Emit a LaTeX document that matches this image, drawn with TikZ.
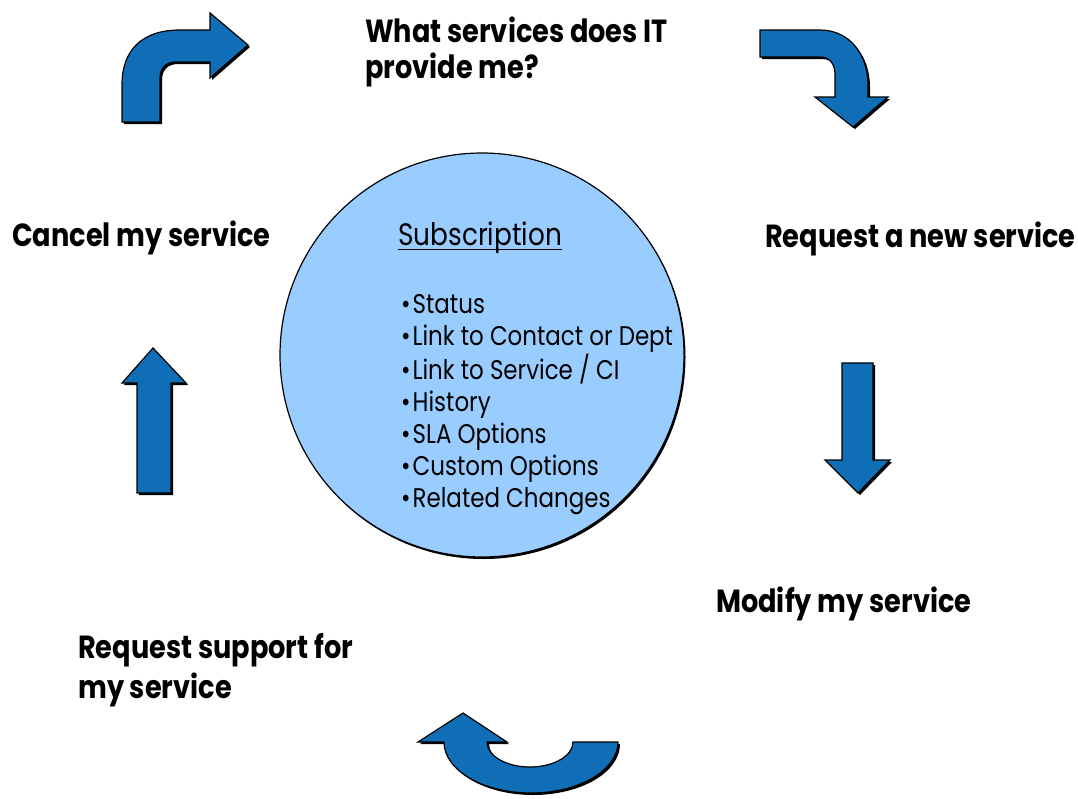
\documentclass[tikz,border=0pt]{standalone}
\usepackage{fontspec}
\newfontfamily\geo{Poppins}[FakeStretch=0.85]
\definecolor{flowblue}{RGB}{16,110,182}
\definecolor{discblue}{RGB}{153,204,255}

% filled block arrow with a dark drop shadow
\newcommand{\flowarrow}[1]{\fill[drop] #1; \filldraw[flow] #1;}

\begin{document}
\begin{tikzpicture}[x=1pt, y=1pt,
  action/.style={anchor=base west, inner sep=0pt, align=left,
    font=\geo\bfseries\fontsize{32}{38}\selectfont},
  entry/.style={anchor=base west, inner sep=0pt, align=left,
    font=\geo\fontsize{27}{32}\selectfont},
  flow/.style={fill=flowblue, draw=black, line width=1.2pt, line join=miter},
  drop/.style={fill=black, shift={(2,-2)}}
]
\useasboundingbox[fill=white] (0,0) rectangle (1078,-798);

% Central disc
\fill[black] (483.5,-357) circle[radius=202pt];
\node[circle, draw=black, line width=1.2pt, fill=discblue, minimum size=404pt] (disc) at (482,-355) {};

% base anchor sits on the last line of a multi-line node
\node[entry, font=\geo\fontsize{31}{36}\selectfont] (subtitle) at (398,-245) {Subscription};
\draw[line width=1pt] ([yshift=-4pt]subtitle.base west) -- ([yshift=-4pt]subtitle.base east);
\node[entry] (items) at (401,-507) {%
  •\kern2pt Status\\ •\kern2pt Link to Contact or Dept\\ •\kern2pt Link to Service / CI\\
  •\kern2pt History\\ •\kern2pt SLA Options\\ •\kern2pt Custom Options\\
  •\kern2pt Related Changes};

% Lifecycle steps
\node[action] (what) at (365,-78) {What services does IT\\[-2pt]provide me?};
\node[action] (request) at (765,-247) {Request a new service};
\node[action] (modify) at (716,-612) {Modify my service};
\node[action] (support) at (78,-698) {Request support for\\[2pt]my service};
\node[action] (cancel) at (12,-246) {Cancel my service};

% Block arrows between the steps
\flowarrow{(122,-122) -- (122,-85) .. controls (122,-50) and (142,-30) .. (180,-30)
  -- (210,-30) -- (210,-13) -- (248,-45) -- (210,-78) -- (210,-62) -- (176,-62)
  .. controls (166,-62) and (160,-68) .. (160,-78) -- (160,-122) -- cycle}
\flowarrow{(760,-30) -- (820,-30) .. controls (850,-30) and (868,-55) .. (868,-85)
  -- (868,-97) -- (888,-97) -- (853,-127) -- (815,-97) -- (835,-97) -- (835,-75)
  .. controls (835,-64) and (830,-57) .. (820,-57) -- (760,-57) -- cycle}
\flowarrow{(842,-363) -- (873,-363) -- (873,-460) -- (890,-460) -- (858,-493)
  -- (825,-460) -- (842,-460) -- cycle}
\flowarrow{(618,-742) arc[start angle=0, end angle=-180, x radius=87pt, y radius=51pt]
  -- (418,-742) -- (463,-713) -- (507,-742) -- (487,-742)
  arc[start angle=180, end angle=360, x radius=43pt, y radius=25pt] -- cycle}
\flowarrow{(137,-493) -- (137,-383) -- (122,-383) -- (153,-348) -- (186,-383)
  -- (171,-383) -- (171,-493) -- cycle}
\end{tikzpicture}
\end{document}
